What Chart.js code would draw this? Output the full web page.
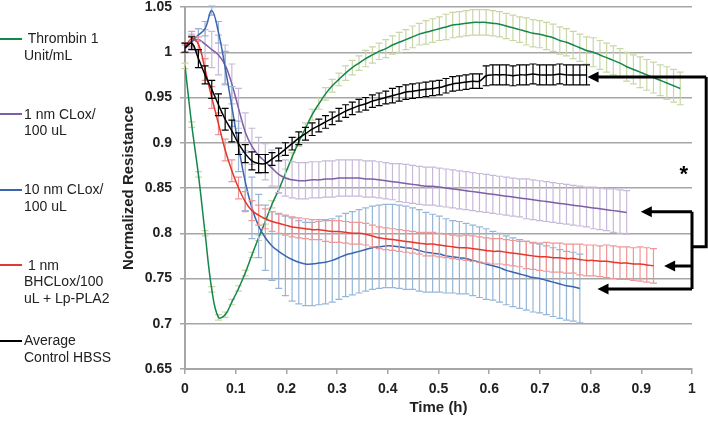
<!DOCTYPE html>
<html>
<head>
<meta charset="utf-8">
<script src="https://cdn.jsdelivr.net/npm/chart.js"></script>
<style>
  body { margin: 0; background: #fff; }
  #wrap { position: relative; width: 708px; height: 422px; }
  #legend { position: absolute; left: 0; top: 0; font: 14px Arial, "Liberation Sans", sans-serif; color: #222; }
  .item { position: absolute; left: 0; width: 120px; }
  .swatch { position: absolute; left: 0; width: 22px; height: 2px; }
  .label { position: absolute; left: 24px; white-space: pre; line-height: 16.5px; }
</style>
</head>
<body>
<div id="wrap">
  <canvas id="chart" width="708" height="422"></canvas>
  <div id="legend"></div>
</div>
<script>
// sample times (h), shared by all series
const times = [0,0.0132,0.0264,0.0396,0.0528,0.066,0.0792,0.0924,0.1056,0.1188,
  0.132,0.1452,0.1584,0.1716,0.1848,0.198,0.2112,0.2244,0.2376,0.2508,
  0.264,0.2772,0.2904,0.3036,0.3168,0.33,0.3432,0.3564,0.3696,0.3828,
  0.396,0.4092,0.4224,0.4356,0.4488,0.462,0.4752,0.4884,0.5016,0.5148,
  0.528,0.5412,0.5544,0.5676,0.5808,0.594,0.6072,0.6204,0.6336,0.6468,
  0.66,0.6732,0.6864,0.6996,0.7128,0.726,0.7392,0.7524,0.7656,0.7788,
  0.792,0.8052,0.8184,0.8316,0.8448,0.858,0.8712,0.8844,0.8976,0.9108,
  0.924,0.9372,0.9504,0.9636,0.9768];

const thrombinValues = [0.985,0.920,0.865,0.800,0.738,0.707,0.710,0.724,0.739,0.756,
  0.776,0.795,0.813,0.832,0.848,0.866,0.884,0.901,0.916,0.931,
  0.943,0.954,0.963,0.970,0.977,0.983,0.988,0.993,0.997,1.001,
  1.004,1.008,1.011,1.014,1.017,1.020,1.022,1.024,1.026,1.028,
  1.030,1.031,1.032,1.033,1.033,1.033,1.032,1.031,1.029,1.027,
  1.025,1.023,1.021,1.020,1.018,1.016,1.013,1.011,1.008,1.005,
  1.002,1.000,0.997,0.994,0.991,0.988,0.984,0.981,0.978,0.975,
  0.972,0.969,0.966,0.963,0.960];
const thrombinErrors = [0.003,0.003,0.003,0.003,0.003,0.003,0.003,0.003,0.003,0.003,
  0.003,0.003,0.003,0.004,0.004,0.005,0.005,0.005,0.006,0.006,
  0.006,0.007,0.007,0.007,0.008,0.008,0.008,0.009,0.009,0.009,
  0.010,0.010,0.011,0.011,0.012,0.012,0.013,0.013,0.013,0.014,
  0.014,0.014,0.014,0.014,0.014,0.014,0.014,0.014,0.014,0.014,
  0.014,0.015,0.015,0.015,0.015,0.015,0.015,0.015,0.015,0.015,
  0.015,0.016,0.016,0.016,0.016,0.016,0.016,0.016,0.017,0.017,
  0.017,0.017,0.018,0.018,0.018];

const clox1Values = [1.005,1.012,1.014,1.009,1.003,0.997,0.986,0.965,0.938,0.912,
  0.896,0.886,0.879,0.872,0.865,0.861,0.859,0.858,0.858,0.859,
  0.859,0.860,0.860,0.861,0.861,0.861,0.861,0.860,0.860,0.859,
  0.858,0.857,0.856,0.855,0.854,0.853,0.852,0.852,0.851,0.850,
  0.849,0.848,0.847,0.846,0.845,0.844,0.843,0.842,0.841,0.840,
  0.839,0.838,0.837,0.836,0.835,0.834,0.833,0.832,0.831,0.830,
  0.829,0.828,0.827,0.826,0.825,0.824,0.823];
const clox1Errors = [0.005,0.008,0.012,0.016,0.020,0.022,0.022,0.022,0.022,0.021,
  0.020,0.020,0.020,0.020,0.020,0.020,0.020,0.020,0.020,0.020,
  0.020,0.020,0.020,0.020,0.020,0.020,0.020,0.020,0.020,0.020,
  0.020,0.020,0.021,0.021,0.021,0.021,0.021,0.021,0.021,0.021,
  0.021,0.021,0.021,0.021,0.021,0.021,0.021,0.021,0.021,0.021,
  0.021,0.022,0.022,0.022,0.022,0.022,0.022,0.022,0.022,0.022,
  0.022,0.023,0.023,0.023,0.024,0.024,0.024];

const clox10Values = [1.004,1.012,1.019,1.026,1.046,1.022,0.983,0.940,0.896,0.857,
  0.828,0.808,0.795,0.786,0.780,0.775,0.771,0.768,0.766,0.766,
  0.767,0.768,0.770,0.773,0.776,0.778,0.780,0.782,0.784,0.785,
  0.786,0.786,0.785,0.784,0.783,0.781,0.779,0.778,0.777,0.775,
  0.774,0.773,0.772,0.770,0.768,0.766,0.764,0.762,0.759,0.757,
  0.755,0.753,0.751,0.750,0.748,0.746,0.744,0.742,0.741,0.739];
const clox10Errors = [0.004,0.006,0.007,0.008,0.005,0.012,0.018,0.022,0.028,0.032,
  0.034,0.035,0.036,0.038,0.041,0.044,0.046,0.046,0.046,0.046,
  0.046,0.046,0.046,0.046,0.046,0.046,0.046,0.046,0.046,0.046,
  0.046,0.046,0.046,0.046,0.045,0.045,0.044,0.043,0.042,0.041,
  0.040,0.040,0.039,0.039,0.039,0.039,0.038,0.038,0.038,0.038,
  0.038,0.038,0.038,0.038,0.038,0.038,0.038,0.038,0.038,0.038];

const bhcloxValues = [1.005,1.015,1.009,0.981,0.950,0.921,0.892,0.869,0.850,0.835,
  0.825,0.820,0.816,0.813,0.811,0.809,0.807,0.806,0.805,0.804,
  0.804,0.803,0.802,0.802,0.801,0.800,0.800,0.799,0.797,0.795,
  0.794,0.793,0.792,0.791,0.790,0.789,0.788,0.788,0.787,0.786,
  0.785,0.784,0.784,0.783,0.782,0.781,0.780,0.780,0.779,0.778,
  0.777,0.776,0.775,0.774,0.774,0.773,0.773,0.772,0.772,0.771,
  0.770,0.770,0.769,0.769,0.768,0.767,0.767,0.766,0.766,0.765,
  0.764];
const bhcloxErrors = [0.005,0.008,0.008,0.012,0.012,0.012,0.012,0.012,0.012,0.011,
  0.011,0.011,0.011,0.011,0.011,0.011,0.011,0.011,0.011,0.011,
  0.011,0.012,0.012,0.012,0.012,0.012,0.012,0.012,0.012,0.012,
  0.012,0.012,0.012,0.012,0.012,0.012,0.013,0.013,0.013,0.013,
  0.013,0.013,0.014,0.014,0.014,0.014,0.014,0.014,0.014,0.014,
  0.014,0.015,0.015,0.015,0.016,0.016,0.016,0.016,0.016,0.017,
  0.017,0.017,0.017,0.018,0.018,0.018,0.018,0.018,0.019,0.019,
  0.019];

const controlValues = [1.005,1.010,0.993,0.975,0.959,0.942,0.926,0.913,0.899,0.888,
  0.880,0.877,0.877,0.882,0.887,0.893,0.899,0.905,0.910,0.915,
  0.919,0.923,0.927,0.931,0.935,0.938,0.941,0.943,0.946,0.948,
  0.950,0.952,0.954,0.956,0.957,0.958,0.959,0.960,0.961,0.963,
  0.965,0.966,0.967,0.968,0.968,0.974,0.975,0.975,0.975,0.974,
  0.975,0.975,0.976,0.975,0.975,0.975,0.976,0.975,0.975,0.975,
  0.975];
const controlErrors = [0.005,0.007,0.010,0.010,0.010,0.012,0.012,0.012,0.012,0.010,
  0.010,0.010,0.010,0.007,0.007,0.007,0.007,0.007,0.007,0.007,
  0.007,0.007,0.007,0.007,0.007,0.007,0.007,0.007,0.007,0.007,
  0.007,0.008,0.008,0.008,0.008,0.008,0.008,0.008,0.008,0.008,
  0.008,0.008,0.008,0.008,0.008,0.011,0.011,0.011,0.011,0.011,
  0.011,0.011,0.011,0.011,0.011,0.011,0.011,0.011,0.011,0.011,
  0.011];

const seriesNames = [' Thrombin 1\nUnit/mL', '1 nm CLox/\n100 uL', '10 nm CLox/\n100 uL',
  ' 1 nm\nBHCLox/100\nuL + Lp-PLA2', 'Average\nControl HBSS'];
const xTicks = [0, 0.1, 0.2, 0.3, 0.4, 0.5, 0.6, 0.7, 0.8, 0.9, 1];
const yTicks = [0.65, 0.7, 0.75, 0.8, 0.85, 0.9, 0.95, 1, 1.05];

const lineColors = ['rgb(20,135,75)', 'rgb(125,95,165)', 'rgb(60,100,175)', 'rgb(228,55,45)', '#000'];
const barColors = ['rgb(200,215,165)', 'rgb(200,185,218)', 'rgb(150,182,215)', 'rgb(240,150,150)', '#000'];

const series = [
  [thrombinValues, thrombinErrors],
  [clox1Values, clox1Errors],
  [clox10Values, clox10Errors],
  [bhcloxValues, bhcloxErrors],
  [controlValues, controlErrors]
];

// legend (html)
const legend = document.getElementById('legend');
seriesNames.forEach((name, i) => {
  const item = document.createElement('div');
  item.className = 'item';
  item.style.top = (30 + i * 75.5) + 'px';
  const sw = document.createElement('div');
  sw.className = 'swatch';
  sw.style.top = '7.5px';
  sw.style.background = lineColors[i];
  const lab = document.createElement('div');
  lab.className = 'label';
  lab.textContent = name;
  item.appendChild(sw);
  item.appendChild(lab);
  legend.appendChild(item);
});

// error bars drawn under each line
const errorBars = {
  id: 'errorBars',
  beforeDatasetDraw(chart, args) {
    const ds = chart.data.datasets[args.index];
    const y = chart.scales.y;
    const ctx = chart.ctx;
    ctx.save();
    ctx.strokeStyle = ds.errorColor;
    ctx.lineWidth = 1.2;
    args.meta.data.forEach((pt, i) => {
      const v = ds.data[i].y, e = ds.errors[i];
      const top = y.getPixelForValue(v + e);
      const bot = y.getPixelForValue(v - e);
      ctx.beginPath();
      ctx.moveTo(pt.x, top); ctx.lineTo(pt.x, bot);
      ctx.moveTo(pt.x - 3.5, top); ctx.lineTo(pt.x + 3.5, top);
      ctx.moveTo(pt.x - 3.5, bot); ctx.lineTo(pt.x + 3.5, bot);
      ctx.stroke();
    });
    ctx.restore();
  }
};

// bracket with arrows and asterisk, in data coordinates
const outerX = 1.028, innerX = 1.0;
const arrowRows = [
  { y: 0.9727, tip: 0.794, from: outerX },
  { y: 0.8238, tip: 0.899, from: innerX },
  { y: 0.7638, tip: 0.945, from: innerX },
  { y: 0.7384, tip: 0.8136, from: innerX }
];
const annotations = {
  id: 'annotations',
  afterDraw(chart) {
    const ctx = chart.ctx, xs = chart.scales.x, ys = chart.scales.y;
    const px = v => xs.getPixelForValue(v), py = v => ys.getPixelForValue(v);
    ctx.save();
    ctx.strokeStyle = '#000';
    ctx.fillStyle = '#000';
    ctx.lineWidth = 3;
    ctx.lineJoin = 'miter';
    ctx.beginPath();
    ctx.moveTo(px(outerX), py(0.9727));
    ctx.lineTo(px(outerX), py(0.785));
    ctx.lineTo(px(innerX), py(0.785));
    ctx.moveTo(px(innerX), py(0.8238));
    ctx.lineTo(px(innerX), py(0.7384));
    ctx.stroke();
    arrowRows.forEach(a => {
      const y = py(a.y), tx = px(a.tip);
      ctx.beginPath();
      ctx.moveTo(px(a.from), y);
      ctx.lineTo(tx + 8, y);
      ctx.stroke();
      ctx.beginPath();
      ctx.moveTo(tx, y);
      ctx.lineTo(tx + 11, y - 5.5);
      ctx.lineTo(tx + 11, y + 5.5);
      ctx.closePath();
      ctx.fill();
    });
    ctx.font = 'bold 22px Arial, "Liberation Sans", sans-serif';
    ctx.textAlign = 'center';
    ctx.textBaseline = 'alphabetic';
    ctx.fillText('*', px(0.984), py(0.872) + 13);
    ctx.restore();
  }
};

const datasets = series.map((s, i) => ({
  label: seriesNames[i],
  data: s[0].map((v, j) => ({ x: times[j], y: v })),
  errors: s[1],
  borderColor: lineColors[i],
  errorColor: barColors[i],
  borderWidth: 1.5,
  pointRadius: 0,
  tension: 0.4,
  fill: false,
  order: 5 - i
}));

const fontFamily = 'Arial, "Liberation Sans", sans-serif';
const titleFont = { family: fontFamily, size: 15, weight: 'bold' };

new Chart(document.getElementById('chart'), {
  type: 'line',
  data: { datasets },
  plugins: [errorBars, annotations],
  options: {
    responsive: false,
    animation: false,
    layout: { padding: { left: 117, right: 16, top: 0, bottom: 0 } },
    plugins: { legend: { display: false }, tooltip: { enabled: false } },
    scales: {
      x: {
        type: 'linear',
        min: 0, max: 1,
        afterBuildTicks: sc => { sc.ticks = xTicks.map(v => ({ value: v })); },
        afterFit: sc => { sc.height = 53; },
        ticks: { font: { family: fontFamily, size: 14, weight: 'bold' }, color: '#222', padding: 7,
          maxRotation: 0, autoSkip: false, callback: v => String(v) },
        grid: { drawOnChartArea: false, drawTicks: true, tickLength: 5, color: '#a6a6a6', lineWidth: 1.5 },
        border: { color: '#a6a6a6', width: 2 },
        title: { display: true, text: 'Time (h)', font: titleFont, color: '#222', padding: { top: 0, bottom: 5 } }
      },
      y: {
        min: 0.65, max: 1.05,
        afterBuildTicks: sc => { sc.ticks = yTicks.map(v => ({ value: v })); },
        afterFit: sc => { sc.width = 68; sc.paddingTop = 7; sc.paddingBottom = 0; },
        ticks: { font: { family: fontFamily, size: 14, weight: 'bold' }, color: '#222',
          padding: 8, callback: v => String(v) },
        grid: { color: '#a6a6a6', lineWidth: 1.5, tickLength: 5 },
        border: { color: '#a6a6a6', width: 2 },
        title: { display: true, text: 'Normalized Resistance', font: titleFont, color: '#222', padding: { top: 3, bottom: 0 } }
      }
    }
  }
});
</script>
</body>
</html>
